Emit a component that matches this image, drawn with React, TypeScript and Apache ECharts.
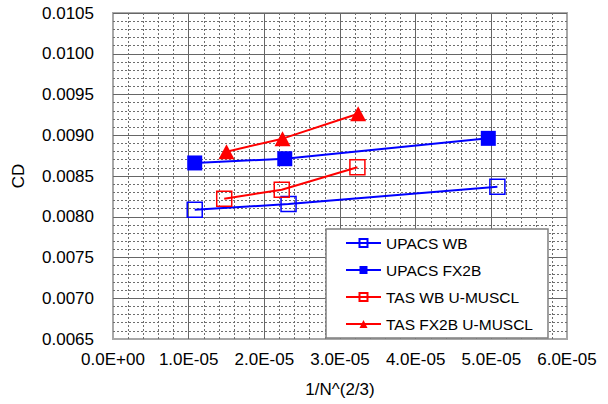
import React, { useEffect, useRef } from "react";
import * as echarts from "echarts";

const upacsWbX = [1.08e-5, 2.32e-5, 5.08e-5];
const upacsWbY = [0.008086, 0.008156, 0.008369];
const upacsFxX = [1.08e-5, 2.27e-5, 4.96e-5];
const upacsFxY = [0.00866, 0.008712, 0.008962];
const tasWbX = [1.47e-5, 2.23e-5, 3.23e-5];
const tasWbY = [0.008221, 0.008332, 0.008607];
const tasFxX = [1.5e-5, 2.24e-5, 3.24e-5];
const tasFxY = [0.008798, 0.008958, 0.009264];

const seriesNames = ["UPACS WB", "UPACS FX2B", "TAS WB U-MUSCL", "TAS FX2B U-MUSCL"];
const xTickLabelsNote = ["0.0E+00", "1.0E-05", "2.0E-05", "3.0E-05", "4.0E-05", "5.0E-05", "6.0E-05"];

const FONT = "'Liberation Sans', Arial, sans-serif";
const BLUE = "#0000ff";
const RED = "#ff0000";

function sci(v: number): string {
  if (Math.abs(v) < 1e-12) return xTickLabelsNote[0];
  const e = Math.floor(Math.log10(Math.abs(v)) + 1e-9);
  const m = v / Math.pow(10, e);
  return m.toFixed(1) + "E" + (e < 0 ? "-" : "+") + String(Math.abs(e)).padStart(2, "0");
}

function pairs(xs: number[], ys: number[]) {
  return xs.map((x, i) => [x, ys[i]]);
}

export default function App() {
  const ref = useRef<HTMLDivElement>(null);
  useEffect(() => {
    if (!ref.current) return;
    const chart = echarts.init(ref.current, undefined, { renderer: "svg" });
    const open = (c: string) => ({ color: "rgba(255,255,255,0)", borderColor: c, borderWidth: 1.5 });
    chart.setOption({
      animation: false,
      backgroundColor: "#ffffff",
      grid: {
        left: 113,
        top: 13,
        width: 454,
        height: 326,
        outerBoundsMode: "none",
        containLabel: false,
        show: true,
        backgroundColor: "#ffffff",
        borderColor: "#a8a8a8",
        borderWidth: 2,
      },
      xAxis: {
        type: "value",
        min: 0,
        max: 6e-5,
        interval: 1e-5,
        name: "1/N^(2/3)",
        nameLocation: "middle",
        nameGap: 42,
        nameTextStyle: { fontFamily: FONT, fontSize: 17, color: "#000" },
        axisLine: { show: false },
        axisTick: { show: false },
        axisLabel: {
          formatter: (v: number) => sci(v),
          fontFamily: FONT,
          fontSize: 17,
          color: "#000",
          margin: 12,
        },
        splitLine: { show: true, showMinLine: false, showMaxLine: false, lineStyle: { color: "#666666", width: 1 } },
        minorTick: { show: false, splitNumber: 5 },
        minorSplitLine: { show: true, lineStyle: { color: "#6e6e6e", width: 1, type: [2, 2] } },
      },
      yAxis: {
        type: "value",
        min: 0.0065,
        max: 0.0105,
        interval: 0.0005,
        name: "CD",
        nameLocation: "middle",
        nameGap: 86,
        nameTextStyle: { fontFamily: FONT, fontSize: 17, color: "#000" },
        axisLine: { show: false },
        axisTick: { show: false },
        axisLabel: {
          formatter: (v: number) => v.toFixed(4),
          fontFamily: FONT,
          fontSize: 17,
          color: "#000",
          margin: 19,
        },
        splitLine: { show: true, showMinLine: false, showMaxLine: true, lineStyle: { color: "#666666", width: 1 } },
        minorTick: { show: false, splitNumber: 5 },
        minorSplitLine: { show: true, lineStyle: { color: "#6e6e6e", width: 1, type: [2, 2] } },
      },
      legend: {
        orient: "vertical",
        left: 326,
        top: 229,
        padding: [6, 15, 6, 19],
        itemWidth: 35,
        itemHeight: 10,
        itemGap: 11,
        backgroundColor: "#ffffff",
        borderColor: "#808080",
        borderWidth: 1.5,
        textStyle: { fontFamily: FONT, fontSize: 15.5, color: "#000", lineHeight: 14 },
        data: seriesNames,
      },
      series: [
        {
          name: seriesNames[0],
          type: "line",
          data: pairs(upacsWbX, upacsWbY),
          symbol: "rect",
          symbolSize: 15,
          itemStyle: open(BLUE),
          lineStyle: { color: BLUE, width: 2 },
        },
        {
          name: seriesNames[1],
          type: "line",
          data: pairs(upacsFxX, upacsFxY),
          symbol: "rect",
          symbolSize: 15,
          itemStyle: { color: BLUE },
          lineStyle: { color: BLUE, width: 2 },
        },
        {
          name: seriesNames[2],
          type: "line",
          data: pairs(tasWbX, tasWbY),
          symbol: "rect",
          symbolSize: 15,
          itemStyle: open(RED),
          lineStyle: { color: RED, width: 2 },
        },
        {
          name: seriesNames[3],
          type: "line",
          data: pairs(tasFxX, tasFxY),
          symbol: "triangle",
          symbolSize: [16, 15],
          itemStyle: { color: RED },
          lineStyle: { color: RED, width: 2 },
        },
      ],
    });
    return () => chart.dispose();
  }, []);
  return (
    <div
      ref={ref}
      style={{ position: "fixed", left: 0, top: 0, width: 608, height: 404, background: "#fff" }}
    />
  );
}
